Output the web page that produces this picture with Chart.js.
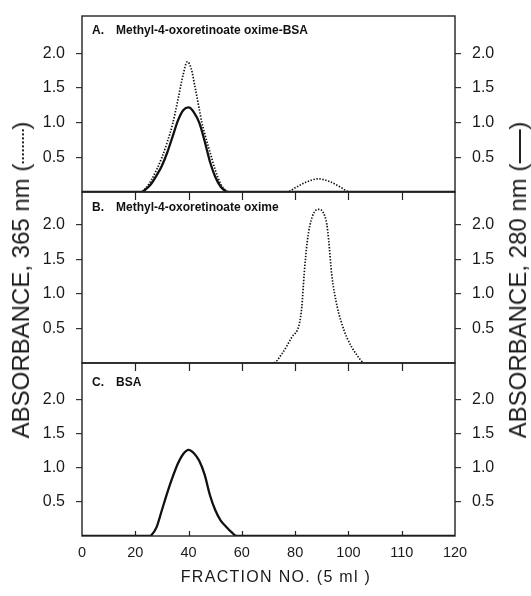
<!DOCTYPE html>
<html>
<head>
<meta charset="utf-8">
<script src="https://cdn.jsdelivr.net/npm/chart.js@4.4.1/dist/chart.umd.min.js"></script>
<style>
  body { margin: 0; background: #fff; }
  #wrap { position: relative; width: 531px; height: 596px; font-family: 'Liberation Sans', Arial, sans-serif; color: #1a1a1a; overflow: hidden; }
  canvas { position: absolute; left: 0; }
  .ytitle { position: absolute; top: 280px; font-size: 24px; white-space: nowrap; transform: translate(-50%, -50%) rotate(-90deg); }
  .ytitle .dots { display: inline-block; width: 34px; border-top: 2px dotted #222; vertical-align: middle; }
  .ytitle .solid { display: inline-block; width: 34px; border-top: 2px solid #222; vertical-align: middle; }
  #xtitle { position: absolute; left: 276px; top: 577px; font-size: 16px; letter-spacing: 1.3px; white-space: nowrap; transform: translate(-50%, -50%); }
</style>
</head>
<body>
<div id="wrap">
  <canvas id="panelA" width="531" height="200" style="top:0px"></canvas>
  <canvas id="panelB" width="531" height="187" style="top:184px"></canvas>
  <canvas id="panelC" width="531" height="241" style="top:355px"></canvas>
  <div class="ytitle" style="left:21px">ABSORBANCE, 365 nm (<span class="dots"></span>)</div>
  <div class="ytitle" style="left:518px">ABSORBANCE, 280 nm (<span class="solid"></span>)</div>
  <div id="xtitle">FRACTION NO. (5 ml )</div>
</div>
<script>
// axis ticks as printed in the figure (the labels really do read 100, 110, 120)
const xTickValues = [0, 20, 40, 60, 80, 100, 120, 140];
const xTickLabels = ['0', '20', '40', '60', '80', '100', '110', '120'];
const yTickValues = [0.5, 1.0, 1.5, 2.0];

const panelLetters = ['A.', 'B.', 'C.'];
const panelNames = ['Methyl-4-oxoretinoate oxime-BSA', 'Methyl-4-oxoretinoate oxime', 'BSA'];

// A: conjugate, 365 nm (dotted)
const fracA365 = [0, 22, 24, 26, 28, 30, 32, 34, 36, 38, 39.5, 41, 42.5, 44, 45, 46, 48, 50, 52, 54, 55, 77, 80, 84, 88.7, 93, 97, 100.6, 140];
const absA365 = [0, 0, 0.06, 0.17, 0.32, 0.5, 0.72, 0.98, 1.33, 1.7, 1.88, 1.78, 1.5, 1.2, 1.0, 0.85, 0.58, 0.32, 0.12, 0.02, 0, 0, 0.06, 0.14, 0.19, 0.15, 0.07, 0, 0];
// A: conjugate, 280 nm (solid)
const fracA280 = [0, 22.4, 24, 26, 28, 30, 32, 34, 36, 38, 40, 42, 44, 46, 48, 50, 52, 54, 54.5, 140];
const absA280 = [0, 0, 0.04, 0.12, 0.24, 0.38, 0.57, 0.8, 1.03, 1.18, 1.22, 1.15, 1.0, 0.74, 0.44, 0.22, 0.08, 0.01, 0, 0];
// B: free oxime, 365 nm (dotted)
const fracB365 = [0, 71.8, 75, 78.7, 81.6, 82.5, 83.4, 84.6, 85.6, 87.2, 89, 90.6, 91.9, 92.6, 93.7, 95.8, 97.5, 99.4, 102.9, 106.2, 140];
const absB365 = [0, 0, 0.13, 0.37, 0.57, 0.81, 1.29, 1.77, 2.0, 2.18, 2.22, 2.17, 2.0, 1.77, 1.29, 0.81, 0.57, 0.37, 0.13, 0, 0];
// C: BSA, 280 nm (solid)
const fracC280 = [0, 25.5, 26, 28, 30, 32, 34, 36, 38, 40, 42, 44, 46, 48, 50, 52, 54, 56, 58, 140];
const absC280 = [0, 0, 0.01, 0.13, 0.38, 0.63, 0.86, 1.06, 1.2, 1.26, 1.21, 1.1, 0.9, 0.6, 0.38, 0.23, 0.14, 0.06, 0, 0];

Chart.defaults.font.family = "'Liberation Sans', Arial, sans-serif";
Chart.defaults.color = '#1a1a1a';

function toPoints(fr, ab) {
  return fr.map((f, i) => ({ x: f, y: ab[i] }));
}

function dotted(fr, ab) {
  return { data: toPoints(fr, ab), borderColor: '#111', borderWidth: 1.7, borderDash: [1.4, 1.6],
    pointRadius: 0, tension: 0.4, cubicInterpolationMode: 'monotone', yAxisID: 'y' };
}
function solid(fr, ab) {
  return { data: toPoints(fr, ab), borderColor: '#111', borderWidth: 2.3,
    pointRadius: 0, tension: 0.4, cubicInterpolationMode: 'monotone', yAxisID: 'y' };
}

// frame, inward x ticks and the panel caption
const frameAndTicks = {
  id: 'frameAndTicks',
  afterDraw(chart, args, opts) {
    const { ctx, chartArea: a, scales: { x } } = chart;
    ctx.save();
    ctx.strokeStyle = '#222';
    ctx.lineWidth = 1.4;
    ctx.strokeRect(a.left, a.top, a.right - a.left, a.bottom - a.top);
    ctx.lineWidth = 1.2;
    xTickValues.slice(1, -1).forEach(v => {
      const px = Math.round(x.getPixelForValue(v)) + 0.5;
      ctx.beginPath();
      if (opts.top) { ctx.moveTo(px, a.top); ctx.lineTo(px, a.top + opts.top); }
      if (opts.bottom) { ctx.moveTo(px, a.bottom); ctx.lineTo(px, a.bottom - opts.bottom); }
      ctx.stroke();
    });
    ctx.fillStyle = '#111';
    ctx.font = "bold 12px 'Liberation Sans', Arial, sans-serif";
    ctx.textBaseline = 'middle';
    ctx.fillText(opts.letter, a.left + 10, a.top + opts.labelDy);
    ctx.fillText(opts.name, a.left + 34, a.top + opts.labelDy);
    ctx.restore();
  }
};

function yAxis(pos, yMax, w) {
  return {
    position: pos, min: 0, max: yMax,
    afterBuildTicks: s => { s.ticks = yTickValues.map(v => ({ value: v })); },
    afterFit: s => { s.width = w; s.paddingTop = 0; s.paddingBottom = 0; },
    grid: { drawOnChartArea: false, tickLength: 6, color: '#333', lineWidth: 1.2 },
    border: { display: false },
    ticks: { padding: 11, font: { size: 16 }, callback: v => v.toFixed(1) }
  };
}

function makePanel(id, idx, datasets, yMax, pad, showX, inner) {
  const xScale = {
    type: 'linear', min: 0, max: 140, display: showX,
    afterBuildTicks: s => { s.ticks = xTickValues.map(v => ({ value: v })); },
    afterFit: s => { s.height = showX ? 60 : 0; s.paddingLeft = 0; s.paddingRight = 0; },
    grid: { display: false, drawTicks: false },
    border: { display: false },
    ticks: { padding: 8, autoSkip: false, maxRotation: 0, font: { size: 14.5 },
      callback: (v, i) => xTickLabels[i] }
  };
  return new Chart(document.getElementById(id), {
    type: 'line',
    data: { datasets: datasets },
    options: {
      responsive: false,
      animation: false,
      layout: { padding: pad },
      plugins: {
        legend: { display: false },
        tooltip: { enabled: false },
        frameAndTicks: Object.assign({ letter: panelLetters[idx], name: panelNames[idx] }, inner)
      },
      scales: { x: xScale, y: yAxis('left', yMax, 82), y2: yAxis('right', yMax, 76) }
    },
    plugins: [frameAndTicks]
  });
}

makePanel('panelA', 0, [dotted(fracA365, absA365), solid(fracA280, absA280)], 2.54,
  { top: 16, bottom: 8, left: 0, right: 0 }, false, { top: 0, bottom: 0, labelDy: 15 });
makePanel('panelB', 1, [dotted(fracB365, absB365)], 2.47,
  { top: 8, bottom: 8, left: 0, right: 0 }, false, { top: 8, bottom: 0, labelDy: 16 });
makePanel('panelC', 2, [solid(fracC280, absC280)], 2.53,
  { top: 8, bottom: 0, left: 0, right: 0 }, true, { top: 8, bottom: 5, labelDy: 20 });
</script>
</body>
</html>
